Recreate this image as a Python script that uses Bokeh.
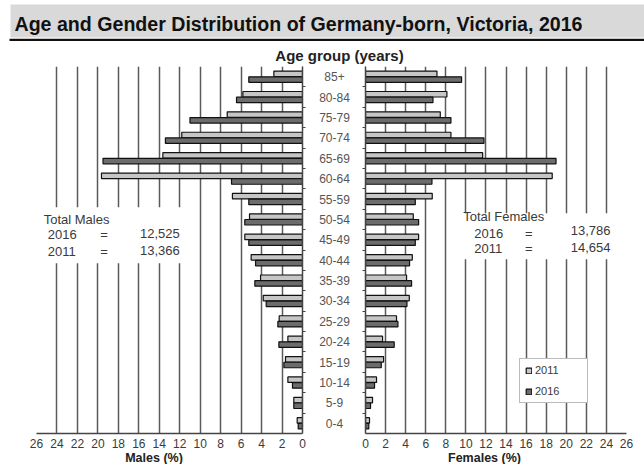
from bokeh.plotting import figure
from bokeh.models import (Range1d, FixedTicker, Label, BoxAnnotation, Legend,
                          LegendItem, ColumnDataSource)
from bokeh.layouts import column, row
from bokeh.transform import dodge
from bokeh.embed import file_html
from bokeh.resources import INLINE
from bokeh.core.properties import value

# ---------------- data ----------------
age_groups = ["0-4", "5-9", "10-14", "15-19", "20-24", "25-29", "30-34", "35-39",
              "40-44", "45-49", "50-54", "55-59", "60-64", "65-69", "70-74",
              "75-79", "80-84", "85+"]
males_2011 = [0.52, 0.85, 1.43, 1.66, 1.43, 2.28, 3.84, 4.10, 5.02, 5.64, 5.18,
              6.85, 19.65, 13.65, 11.8, 7.36, 5.83, 2.8]
males_2016 = [0.42, 0.85, 0.98, 1.82, 2.31, 2.41, 3.55, 4.66, 4.59, 5.25, 5.64,
              5.25, 6.94, 19.5, 13.4, 11.0, 6.45, 5.25]
females_2011 = [0.40, 0.70, 1.10, 1.80, 1.70, 3.09, 4.36, 4.09, 4.66, 5.29, 4.76,
                6.65, 18.6, 11.67, 8.51, 7.45, 8.11, 7.12]
females_2016 = [0.33, 0.50, 0.90, 1.57, 2.86, 3.23, 4.13, 4.59, 4.39, 4.96, 5.29,
                4.96, 6.62, 18.98, 11.8, 8.51, 6.72, 9.57]
x_ticks = [0, 2, 4, 6, 8, 10, 12, 14, 16, 18, 20, 22, 24, 26]
years = ["2011", "2016"]
total_males = {"2016": "12,525", "2011": "13,366"}
total_females = {"2016": "13,786", "2011": "14,654"}

title_text = "Age and Gender Distribution of Germany-born, Victoria, 2016"

# ---------------- styling ----------------
FONT = "Liberation Sans"
C_LIGHT = "#c6c6c6"
C_DARK = "#6c6c6c"
GRID = "#5a5a5a"
AX = "#444444"
TXT = "#3a3a3a"

idx = list(range(len(age_groups)))
src = ColumnDataSource(dict(y=idx, label=age_groups,
                            m11=males_2011, m16=males_2016,
                            f11=females_2011, f16=females_2016))
boundaries = [i + 0.5 for i in range(len(age_groups) - 1)]

HEAD_H = 66
ROW_H = 386
BOTTOM = 19
STRIP_H = 464 - HEAD_H - ROW_H


def bare(p):
    p.outline_line_color = None
    p.xgrid.visible = False
    p.ygrid.visible = False
    return p


def side_fig(width, x_range, yloc, bl, br):
    p = figure(width=width, height=ROW_H, x_range=x_range,
               y_range=Range1d(-0.5, len(age_groups) - 0.5),
               y_axis_location=yloc, toolbar_location=None,
               output_backend="svg", min_border_left=bl, min_border_right=br,
               min_border_top=0, min_border_bottom=BOTTOM)
    p.outline_line_color = None
    p.ygrid.visible = False
    p.xaxis.ticker = FixedTicker(ticks=x_ticks)
    p.xgrid.ticker = FixedTicker(ticks=x_ticks)
    p.xgrid.grid_line_color = GRID
    p.xgrid.grid_line_width = 1.5
    p.xaxis.axis_line_color = AX
    p.xaxis.axis_line_width = 1.5
    p.xaxis.major_tick_out = 0
    p.xaxis.major_tick_in = 0
    p.xaxis.minor_tick_line_color = None
    p.xaxis.major_label_standoff = 5
    p.xaxis.major_label_text_font = FONT
    p.xaxis.major_label_text_font_size = "12px"
    p.xaxis.major_label_text_color = TXT
    p.yaxis.ticker = FixedTicker(ticks=boundaries)
    p.yaxis.major_label_overrides = {b: "" for b in boundaries}
    p.yaxis.axis_line_color = AX
    p.yaxis.axis_line_width = 1.5
    p.yaxis.major_tick_line_color = AX
    p.yaxis.major_tick_line_width = 1
    p.yaxis.major_tick_out = 3
    p.yaxis.major_tick_in = 0
    p.yaxis.minor_tick_line_color = None
    p.yaxis.major_label_standoff = 0
    return p


# ---------------- left (males) ----------------
pl = side_fig(310, Range1d(26, 0), "right", 36, 8)
pl.hbar(y=dodge("y", 0.14), left=0, right="m11", height=0.27, source=src,
        fill_color=C_LIGHT, line_color="#111111", line_width=1.2)
pl.hbar(y=dodge("y", -0.14), left=0, right="m16", height=0.27, source=src,
        fill_color=C_DARK, line_color="#111111", line_width=1.2)
pl.add_layout(BoxAnnotation(left=25.6, right=10.9, bottom=7.85, top=10.6,
                            fill_color="white", fill_alpha=1, line_color=None))
for txt, x, y, al in [("Total Males", 25.3, 10.0, "left"),
                      ("2016", 24.9, 9.26, "left"), ("=", 19.4, 9.26, "center"),
                      (total_males["2016"], 12.0, 9.33, "right"),
                      ("2011", 24.9, 8.43, "left"), ("=", 19.4, 8.43, "center"),
                      (total_males["2011"], 12.0, 8.5, "right")]:
    pl.add_layout(Label(x=x, y=y, text=txt, text_align=al, text_baseline="middle",
                        text_font=FONT, text_font_size="13px", text_color=TXT))

# ---------------- center (age labels) ----------------
pc = bare(figure(width=47, height=ROW_H, x_range=Range1d(0, 47),
                 y_range=Range1d(-0.5, len(age_groups) - 0.5),
                 x_axis_location=None, y_axis_location=None, toolbar_location=None,
                 output_backend="svg", min_border_left=0, min_border_right=0,
                 min_border_top=0, min_border_bottom=BOTTOM))
pc.text(x=24, y="y", text="label", source=src, text_align="center",
        text_baseline="middle", text_font=value(FONT), text_font_size="12px",
        text_color="#555555")

# ---------------- right (females) ----------------
pr = side_fig(287, Range1d(0, 26), "left", 8, 18)
r11 = pr.hbar(y=dodge("y", 0.14), left=0, right="f11", height=0.27, source=src,
              fill_color=C_LIGHT, line_color="#111111", line_width=1.2)
r16 = pr.hbar(y=dodge("y", -0.14), left=0, right="f16", height=0.27, source=src,
              fill_color=C_DARK, line_color="#111111", line_width=1.2)
pr.add_layout(BoxAnnotation(left=8.8, right=26.5, bottom=8.05, top=10.3,
                            fill_color="white", fill_alpha=1, line_color=None))
for txt, x, y, al in [("Total Females", 9.74, 10.14, "left"),
                      ("2016", 10.84, 9.31, "left"), ("=", 16.27, 9.31, "center"),
                      (total_females["2016"], 24.4, 9.46, "right"),
                      ("2011", 10.84, 8.57, "left"), ("=", 16.27, 8.57, "center"),
                      (total_females["2011"], 24.4, 8.62, "right")]:
    pr.add_layout(Label(x=x, y=y, text=txt, text_align=al, text_baseline="middle",
                        text_font=FONT, text_font_size="13px", text_color=TXT))
legend = Legend(items=[LegendItem(label=years[0], renderers=[r11]),
                       LegendItem(label=years[1], renderers=[r16])],
                location=(154, 30), orientation="vertical",
                glyph_width=7, glyph_height=7, label_standoff=3,
                label_height=12, label_width=47, spacing=9, padding=5,
                label_text_font=FONT, label_text_font_size="11px",
                label_text_color=TXT, border_line_color="#777777",
                border_line_width=1, background_fill_color="white",
                background_fill_alpha=1, margin=0)
pr.add_layout(legend)

# ---------------- header (title band + age-group caption) ----------------
ph = bare(figure(width=644, height=HEAD_H, x_range=Range1d(0, 644),
                 y_range=Range1d(HEAD_H, 0), x_axis_location=None,
                 y_axis_location=None, toolbar_location=None,
                 output_backend="svg", min_border=0))
ph.quad(left=[10], right=[644], top=[4], bottom=[37],
        fill_color="#d9d9d9", line_color=None)
ph.quad(left=[9], right=[644], top=[38.2], bottom=[40.6],
        fill_color="#111111", line_color=None)
ph.add_layout(Label(x=14, y=23, text=title_text, text_align="left",
                    text_baseline="middle", text_font=FONT,
                    text_font_style="bold", text_font_size="19.6px",
                    text_color="#111111"))
ph.add_layout(Label(x=339, y=55.3, text="Age group (years)",
                    text_align="center", text_baseline="middle",
                    text_font=FONT, text_font_style="bold",
                    text_font_size="15px", text_color="#222222"))

# ---------------- bottom strip (axis titles) ----------------
pb = bare(figure(width=644, height=STRIP_H, x_range=Range1d(0, 644),
                 y_range=Range1d(STRIP_H, 0), x_axis_location=None,
                 y_axis_location=None, toolbar_location=None,
                 output_backend="svg", min_border=0))
for txt, xc in [("Males (%)", 153.5), ("Females (%)", 484)]:
    pb.add_layout(Label(x=xc, y=457 - (464 - STRIP_H), text=txt,
                        text_align="center", text_baseline="middle",
                        text_font=FONT, text_font_style="bold",
                        text_font_size="12.5px", text_color="#222222"))

layout = column(ph, row(pl, pc, pr), pb)
open("out.html", "w").write(file_html(layout, INLINE))
